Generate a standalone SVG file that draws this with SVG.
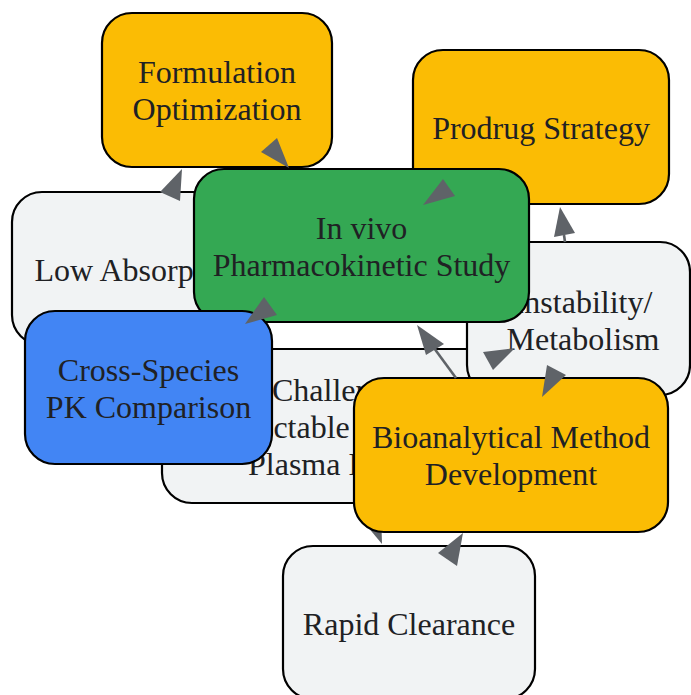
<svg xmlns="http://www.w3.org/2000/svg" width="691" height="695" viewBox="0 0 691 695">
<style>
.n{stroke:#000;stroke-width:2.2}
.g{fill:#f1f3f4}
.y{fill:#fbbc04}
.gr{fill:#34a853}
.b{fill:#4285f4}
.t{font-family:"Liberation Serif","Times New Roman",serif;font-size:32px;fill:#202124;text-anchor:middle}
.ts{text-anchor:start}
.ah{fill:#5f6368}
.ln{stroke:#5f6368;stroke-width:2.6;fill:none}
</style>
<rect width="691" height="695" fill="#fff"/>
<g id="low-absorption">
<rect class="n g" x="12" y="192" width="254" height="153" rx="30"/>
<text class="t" x="139" y="281">Low Absorption</text>
</g>
<g id="formulation-optimization">
<rect class="n y" x="102" y="13" width="230" height="154" rx="30"/>
<text class="t" x="217" y="83">Formulation</text>
<text class="t" x="217" y="120">Optimization</text>
</g>
<g id="prodrug-strategy">
<rect class="n y" x="413" y="50" width="256" height="154" rx="30"/>
<text class="t" x="541" y="139">Prodrug Strategy</text>
</g>
<g id="challenge">
<rect class="n g" x="162" y="349" width="356" height="154" rx="30"/>
<text class="t ts" x="272" y="401">Challenge:</text>
<text class="t ts" x="181" y="438">Undetectable</text>
<text class="t ts" x="248" y="475">Plasma Levels</text>
</g>
<g id="instability-metabolism">
<rect class="n g" x="467" y="242" width="223" height="153" rx="30"/>
<text class="t" x="583" y="313">Instability/</text>
<text class="t" x="583" y="350">Metabolism</text>
</g>
<g id="in-vivo-pk-study">
<rect class="n gr" x="194" y="169" width="335" height="153" rx="30"/>
<text class="t" x="361.5" y="239">In vivo</text>
<text class="t" x="361.5" y="276">Pharmacokinetic Study</text>
</g>
<g id="cross-species-pk">
<rect class="n b" x="25" y="311" width="247" height="153" rx="30"/>
<text class="t" x="148.5" y="381">Cross-Species</text>
<text class="t" x="148.5" y="418">PK Comparison</text>
</g>
<g id="connectors-back">
<polygon class="ah" points="382,544 381,512 362,520"/>
</g>
<g id="bioanalytical-method">
<rect class="n y" x="354" y="378" width="314" height="154" rx="30"/>
<text class="t" x="511" y="448">Bioanalytical Method</text>
<text class="t" x="511" y="485">Development</text>
</g>
<g id="rapid-clearance">
<rect class="n g" x="283" y="546" width="252" height="153" rx="30"/>
<text class="t" x="409" y="635">Rapid Clearance</text>
</g>
<g id="connectors">
<line class="ln" x1="565" y1="242" x2="564" y2="235"/>
<line class="ln" x1="456" y1="378" x2="434" y2="348"/>
<polygon class="ah" points="182,169 160,192 180,201"/>
<polygon class="ah" points="289,168 261,152 277,138"/>
<polygon class="ah" points="423,205 443,179 455,196"/>
<polygon class="ah" points="245,324 264,297 277,315"/>
<polygon class="ah" points="560,207 554,237 575,233"/>
<polygon class="ah" points="417,325 444,344 426,355"/>
<polygon class="ah" points="515,348 483,352 493,370"/>
<polygon class="ah" points="542,397 547,365 566,375"/>
<polygon class="ah" points="463,533 438,553 457,566"/>
</g>
</svg>
